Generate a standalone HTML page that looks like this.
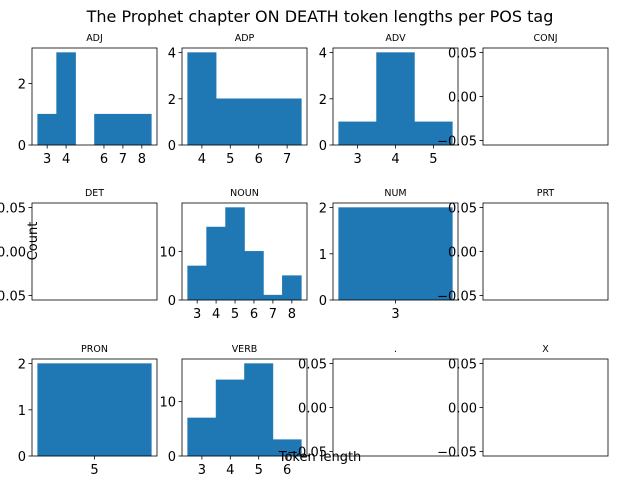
<!DOCTYPE html>
<html><head><meta charset="utf-8"><style>
body{margin:0;background:#fff}
svg{display:block;font-family:"DejaVu Sans","Liberation Sans",sans-serif}
</style></head><body>
<svg id="fig" width="640" height="480" viewBox="0 0 640 480">
<text x="320" y="22" text-anchor="middle" font-size="16" fill="#000">The Prophet chapter ON DEATH token lengths per POS tag</text>
</svg>
<script>
const tags = ["ADJ","ADP","ADV","CONJ","DET","NOUN","NUM","PRT","PRON","VERB",".","X"];
const binStarts = [2.5,3.5,2.5,null,null,2.5,2.5,null,4.5,2.5,null,null];
const countsADJ = [1,3,0,1,1,1];
const countsADP = [4,2,2,2];
const countsADV = [1,4,1];
const countsNOUN = [7,15,19,10,1,5];
const countsNUM = [2];
const countsPRON = [2];
const countsVERB = [7,14,17,3];
const countsByTag = {ADJ:countsADJ,ADP:countsADP,ADV:countsADV,NOUN:countsNOUN,NUM:countsNUM,PRON:countsPRON,VERB:countsVERB};
const emptyTickLabels = ["0.05","0.00","\u22120.05"];
const emptyTickValues = [0.05,0,-0.05];

const svg = document.getElementById('fig');
const NS = "http://www.w3.org/2000/svg";
const colX = [[32,157],[182,307],[333,458],[483,608]];
const rowY = [[48,145],[203,300],[359,456]];
function mk(tag, attrs, parent){const e=document.createElementNS(NS,tag);for(const k in attrs)e.setAttribute(k,attrs[k]);(parent||svg).appendChild(e);return e;}

tags.forEach((tag,i)=>{
  const [x0,x1]=colX[i%4], [y0,y1]=rowY[Math.floor(i/4)];
  const g=mk('g',{});
  
  
  const t=mk('text',{x:(x0+x1)/2,y:y0-7,'text-anchor':'middle','font-size':9.5,fill:'#000'},g);
  t.textContent=tag;
  
  
  const counts=countsByTag[tag];
  if(counts){
    const start=binStarts[i], n=counts.length, end=start+n;
    const m=0.05*n, xmin=start-m, xmax=end+m;
    const maxc=Math.max(...counts), ymax=maxc*1.05;
    const sx=v=>x0+(v-xmin)/(xmax-xmin)*(x1-x0);
    const sy=v=>y1-v/ymax*(y1-y0);
    counts.forEach((c,j)=>{
      if(c<=0)return;
      const r=mk('rect',{x:sx(start+j),y:sy(c),width:sx(start+j+1)-sx(start+j),height:sy(0)-sy(c),fill:'#1f77b4',stroke:'#1f77b4','stroke-width':0.6},g);
      
      
    });
    counts.forEach((c,j)=>{
      if(c<=0)return;
      const v=start+j+0.5;
      const xv=sx(v);
      mk('line',{x1:xv,x2:xv,y1:y1,y2:y1+3.5,stroke:'#000','stroke-width':0.8},g);
      const tl=mk('text',{x:xv,y:y1+18,'text-anchor':'middle','font-size':13,fill:'#000'},g);
      tl.textContent=v;
      
      
    });
    const step=maxc<=2.1?1:(maxc<=5?2:10);
    for(let v=0;v<=maxc;v+=step){
      const yv=sy(v);
      mk('line',{x1:x0-3.5,x2:x0,y1:yv,y2:yv,stroke:'#000','stroke-width':0.8},g);
      const tl=mk('text',{x:x0-6,y:yv+5,'text-anchor':'end','font-size':13,fill:'#000'},g);
      tl.textContent=v;
      
      
    }
  } else {
    const sy=v=>y1-(v+0.055)/0.11*(y1-y0);
    emptyTickValues.forEach((v,j)=>{
      const yv=sy(v);
      mk('line',{x1:x0-3.5,x2:x0,y1:yv,y2:yv,stroke:'#000','stroke-width':0.8},g);
      const tl=mk('text',{x:x0-6,y:yv+5,'text-anchor':'end','font-size':13,fill:'#000'},g);
      tl.textContent=emptyTickLabels[j];
      
      
    });
  }
  const fr=mk('rect',{x:x0,y:y0,width:x1-x0,height:y1-y0,fill:'none',stroke:'#000','stroke-width':0.8},g);
  
  
});
const yl=mk('text',{x:37,y:241,'text-anchor':'middle','font-size':13,fill:'#000',transform:'rotate(-90 37 241)'});
yl.textContent='Count';


const xl=mk('text',{x:320,y:461,'text-anchor':'middle','font-size':13,fill:'#000'});
xl.textContent='Token length';


</script>
</body></html>
